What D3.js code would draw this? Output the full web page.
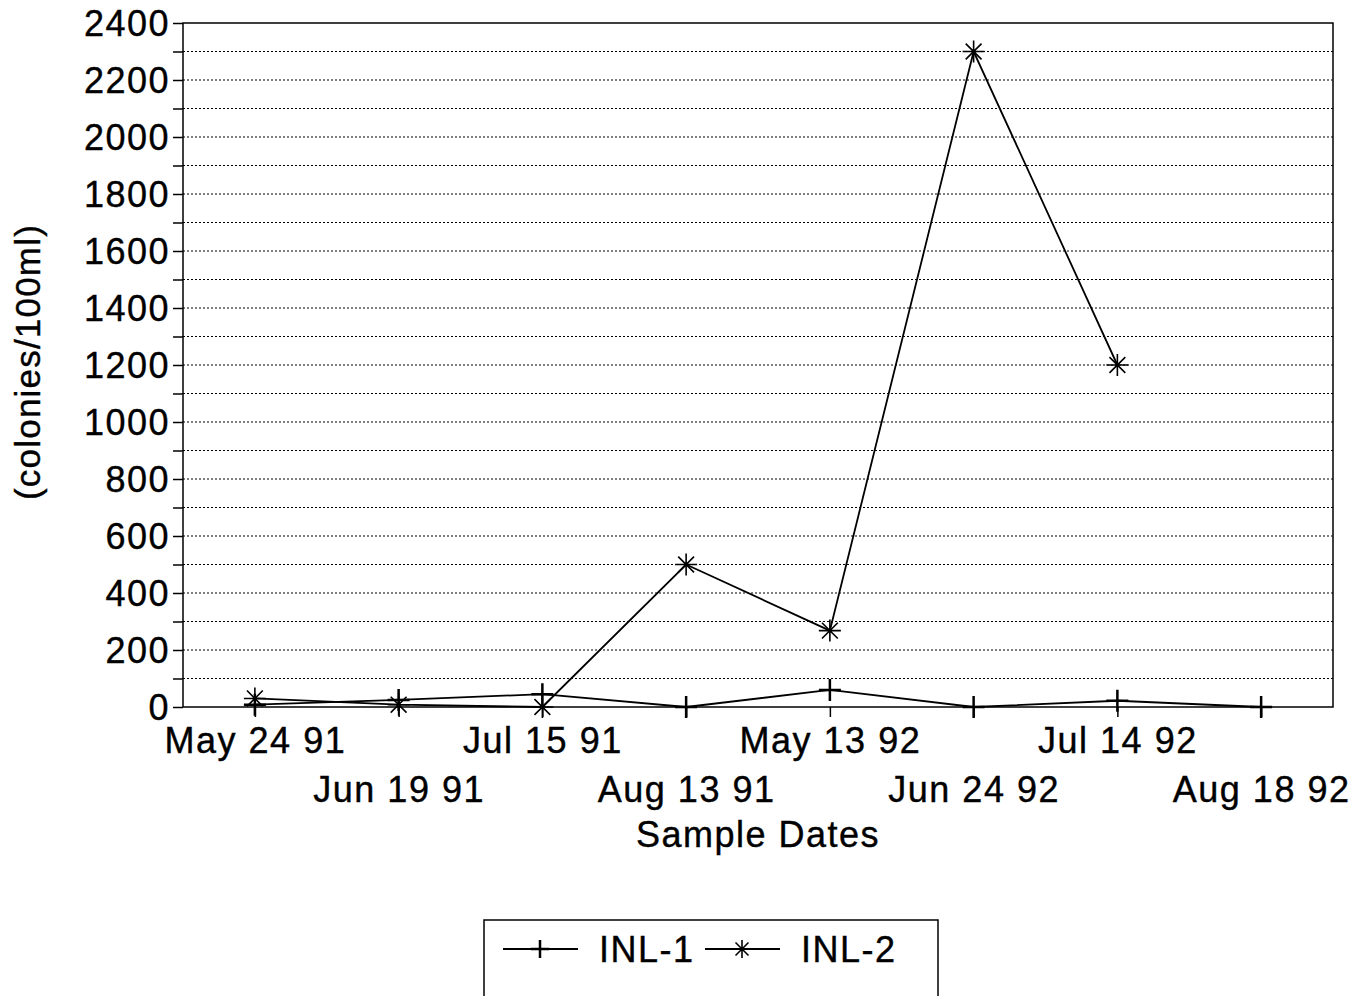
<!DOCTYPE html>
<html>
<head>
<meta charset="utf-8">
<script src="https://cdn.jsdelivr.net/npm/d3@7"></script>
<style>
  body { margin: 0; background: #fff; }
  svg { font-family: 'Liberation Sans', Arial, sans-serif; }
  text { letter-spacing: 1.5px; stroke: #000; stroke-width: 0.4px; }
</style>
</head>
<body>
<svg width="1368" height="996"></svg>
<script>
const dates = [ 'May 24 91', 'Jun 19 91', 'Jul 15 91', 'Aug 13 91', 'May 13 92', 'Jun 24 92', 'Jul 14 92', 'Aug 18 92' ],
	inl1 = [ 8, 25, 45, 0, 60, 0, 22, 0 ],
	inl2 = [ 30, 8, 0, 500, 268, 2300, 1200, null ],
	yTicks = d3.range( 0, 2401, 100 ),
	yLabels = d3.range( 0, 2401, 200 )

const svg = d3.select( 'svg' ),
	plotLeft = 183, plotRight = 1333, plotTop = 23, plotBottom = 707,
	x = d3.scalePoint().domain( dates ).range( [ plotLeft, plotRight ] ).padding( 0.5 ),
	y = d3.scaleLinear().domain( [ 0, 2400 ] ).range( [ plotBottom, plotTop ] )

// dotted grid
svg.append( 'g' )
	.selectAll( 'line' )
	.data( yTicks.slice( 1, -1 ) )
	.enter()
	.append( 'line' )
	.attr( 'x1', plotLeft ).attr( 'x2', plotRight )
	.attr( 'y1', d => y( d ) ).attr( 'y2', d => y( d ) )
	.attr( 'stroke', '#000' )
	.attr( 'stroke-width', 1.2 )
	.attr( 'stroke-dasharray', '2,2' )

// frame
svg.append( 'rect' )
	.attr( 'x', plotLeft ).attr( 'y', plotTop )
	.attr( 'width', plotRight - plotLeft ).attr( 'height', plotBottom - plotTop )
	.attr( 'fill', 'none' )
	.attr( 'stroke', '#000' )
	.attr( 'stroke-width', 1.5 )

// y axis
const yAxis = svg.append( 'g' )
	.attr( 'transform', `translate(${plotLeft},0)` )
	.call( d3.axisLeft( y ).tickValues( yTicks ).tickSize( 10 ).tickFormat( d => yLabels.includes( d ) ? d : '' ) )
yAxis.select( '.domain' ).remove()
yAxis.selectAll( 'line' ).attr( 'stroke-width', 1.5 )
yAxis.selectAll( 'text' )
	.attr( 'font-size', 36 )
	.attr( 'fill', '#000' )
	.attr( 'x', -13 )
	.attr( 'dy', '0.36em' )
	.attr( 'font-family', 'Liberation Sans, Arial, sans-serif' )

// x axis, staggered labels
const xAxis = svg.append( 'g' )
	.attr( 'transform', `translate(0,${plotBottom})` )
	.call( d3.axisBottom( x ).tickSize( 10 ) )
xAxis.select( '.domain' ).remove()
xAxis.selectAll( 'line' ).attr( 'stroke-width', 1.5 )
xAxis.selectAll( 'text' )
	.attr( 'font-size', 36 )
	.attr( 'fill', '#000' )
	.attr( 'font-family', 'Liberation Sans, Arial, sans-serif' )
	.attr( 'y', ( d, i ) => i % 2 ? 95 : 46 )
	.attr( 'dy', 0 )

svg.append( 'text' )
	.attr( 'x', 758 ).attr( 'y', 847 )
	.attr( 'text-anchor', 'middle' )
	.attr( 'font-size', 36 )
	.text( 'Sample Dates' )

svg.append( 'text' )
	.attr( 'transform', `translate(40,362) rotate(-90)` )
	.attr( 'text-anchor', 'middle' )
	.attr( 'font-size', 35 )
	.style( 'letter-spacing', '1.2px' )
	.text( '(colonies/100ml)' )

// series
const line = d3.line()
	.defined( d => d !== null )
	.x( ( d, i ) => x( dates[ i ] ) )
	.y( d => y( d ) )

const plus = ( g, s ) => {
	g.append( 'path' )
		.attr( 'd', `M${-s},0H${s}M0,${-s}V${s}` )
		.attr( 'stroke', '#000' ).attr( 'stroke-width', 2.5 )
}
const star = ( g, s ) => {
	const d = s * 0.72
	g.append( 'path' )
		.attr( 'd', `M${-s},0H${s}M0,${-s}V${s}M${-d},${-d}L${d},${d}M${-d},${d}L${d},${-d}` )
		.attr( 'stroke', '#000' ).attr( 'stroke-width', 1.6 )
}

const series = [
	{ name: 'INL-1', values: inl1, marker: plus },
	{ name: 'INL-2', values: inl2, marker: star }
]

series.forEach( s => {
	svg.append( 'path' )
		.datum( s.values )
		.attr( 'd', line )
		.attr( 'fill', 'none' )
		.attr( 'stroke', '#000' )
		.attr( 'stroke-width', 1.8 )

	s.values.forEach( ( v, i ) => {
		if ( v === null ) return
		const g = svg.append( 'g' ).attr( 'transform', `translate(${x( dates[ i ] )},${y( v )})` )
		s.marker( g, 11 )
	})
})

// legend
const legend = svg.append( 'g' )
legend.append( 'rect' )
	.attr( 'x', 484 ).attr( 'y', 920 )
	.attr( 'width', 454 ).attr( 'height', 100 )
	.attr( 'fill', 'none' )
	.attr( 'stroke', '#000' )
	.attr( 'stroke-width', 1.5 )

series.forEach( ( s, i ) => {
	const lx = 503 + i * 202
	legend.append( 'line' )
		.attr( 'x1', lx ).attr( 'x2', lx + 75 )
		.attr( 'y1', 949 ).attr( 'y2', 949 )
		.attr( 'stroke', '#000' ).attr( 'stroke-width', 1.8 )
	s.marker( legend.append( 'g' ).attr( 'transform', `translate(${lx + 37},949)` ), 9 )
	legend.append( 'text' )
		.attr( 'x', lx + 96 ).attr( 'y', 962 )
		.attr( 'font-size', 36 )
		.text( s.name )
})
</script>
</body>
</html>
